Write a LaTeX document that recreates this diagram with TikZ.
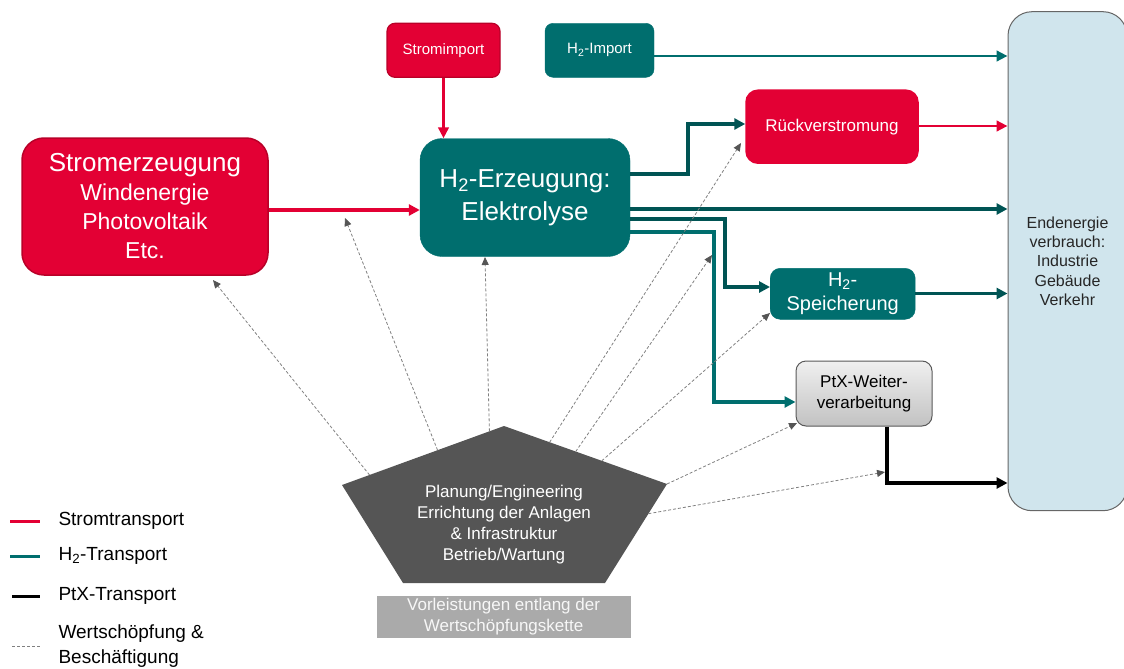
\documentclass[tikz,border=0pt]{standalone}
\usepackage{fontspec}
\setmainfont{Liberation Sans}
\usetikzlibrary{arrows.meta, calc, positioning}
\usepackage{xcolor}

\definecolor{stromred}{RGB}{227,0,52}
\definecolor{stromborder}{RGB}{185,0,40}
\definecolor{htwo}{RGB}{0,110,110}
\definecolor{htwodark}{RGB}{0,84,84}
\definecolor{endblue}{RGB}{208,229,237}
\definecolor{pentgray}{RGB}{85,85,85}
\definecolor{vorlgray}{RGB}{170,170,170}

\newcommand{\fs}[2]{\fontsize{#1}{#2}\selectfont}

\begin{document}
\begin{tikzpicture}[x=1pt,y=-1pt,
  block/.style={draw, align=center, inner sep=0pt, text=white},
  redblock/.style={block, fill=stromred, draw=stromborder, line width=1.5pt},
  tealblock/.style={block, fill=htwo, draw=htwo},
  flow/.style={line width=3.6pt, -{Triangle[length=11pt,width=11pt]}},
  thinflow/.style={line width=2.8pt, -{Triangle[length=11pt,width=10.5pt]}},
  value/.style={draw=gray, line width=0.8pt, dash pattern=on 3pt off 2pt,
    -{Triangle[length=8pt,width=7pt,color=pentgray]}},
  legend/.style={anchor=west, align=left, font=\fs{19}{25}}]
\useasboundingbox (0,0) rectangle (1124,669);

% Boxes
\node [redblock, rounded corners=22pt, minimum width=246pt, minimum height=137pt, font=\fs{23}{29}]
  (strom) at (145,206.5) {{\fs{26}{29}Stromerzeugung}\\Windenergie\\Photovoltaik\\Etc.};
\node [redblock, line width=1.2pt, rounded corners=8pt, minimum width=113pt, minimum height=54pt, font=\fs{15}{18}]
  (simp) at (443.5,50.3) {Stromimport};
\node [tealblock, rounded corners=8pt, minimum width=109pt, minimum height=54pt, font=\fs{15}{18}]
  (himp) at (599.5,50.3) {H\textsubscript{2}-Import};
\node [tealblock, rounded corners=22pt, minimum width=210pt, minimum height=118pt, font=\fs{26}{33}]
  (erz) at (525,197.5) {H\textsubscript{2}-Erzeugung:\\Elektrolyse};
\node [redblock, draw=stromred, rounded corners=12pt, minimum width=172pt, minimum height=73pt, font=\fs{17}{20}]
  (rueck) at (832,126.7) {Rückverstromung};
\node [tealblock, rounded corners=10pt, minimum width=145pt, minimum height=51pt, font=\fs{20}{23.5}]
  (speich) at (842.7,293.8) {H\textsubscript{2}-\\Speicherung};
\node [block, text=black, draw=gray!70!black, line width=1pt, top color=gray!12, bottom color=gray!48,
  rounded corners=10pt, minimum width=136pt, minimum height=65pt, font=\fs{17}{21.7}]
  (ptx) at (864,393.5) {PtX-Weiter-\\verarbeitung};
\node [block, text=black!85, fill=endblue, draw=gray!80!black, line width=1pt, rounded corners=24pt,
  minimum width=119pt, minimum height=499pt, font=\fs{16}{19.4}]
  (end) at (1067.5,261.2) {Endenergie\\verbrauch:\\Industrie\\Gebäude\\Verkehr};

% Pentagon
\coordinate (pt) at (504,426);
\coordinate (pr) at (667,484);
\coordinate (pbr) at (605,583);
\coordinate (pbl) at (403,583);
\coordinate (pl) at (342,485);
\fill [pentgray] (pt) -- (pr) -- (pbr) -- (pbl) -- (pl) -- cycle;
\node [align=center, text=white, font=\fs{17}{21}] (plan) at (504,524.6)
  {Planung/Engineering\\Errichtung der Anlagen\\\& Infrastruktur\\Betrieb/Wartung};
\node [fill=vorlgray, text=gray!6, align=center, inner sep=0pt, minimum width=254pt, minimum height=42pt,
  font=\fs{17}{21}] (vorl) at (503.6,617) {Vorleistungen entlang der\\Wertschöpfungskette};

% Strom flows
\draw [flow, stromred] (strom.east |- 0,210) -- (erz.west |- 0,210);
\draw [thinflow, stromred] (simp.south) -- (simp.south |- erz.north);
\draw [thinflow, stromred] (rueck.east |- 0,126) -- (end.west |- 0,126);

% H2 flows
\draw [thinflow, htwo] (himp.east |- 0,56) -- (end.west |- 0,56);
\draw [flow, htwodark] (erz.east |- 0,174) -| (688,124) -- (rueck.west |- 0,124);
\draw [flow, htwodark] (erz.east |- 0,209) -- (end.west |- 0,209);
\draw [flow, htwodark] (erz.east |- 0,219) -| (725,287) -- (speich.west |- 0,287);
\draw [flow, htwo] (erz.east |- 0,232) -| (714,402) -- (ptx.west |- 0,402);
\draw [flow, htwodark] (speich.east |- 0,293.5) -- (end.west |- 0,293.5);

% PtX flow
\draw [flow, black] (ptx.south -| 887,0) |- (end.west |- 0,483);

% Wertschoepfung
\coordinate (s1) at ($(pl)!0.17!(pt)$);
\coordinate (s2) at ($(pl)!0.59!(pt)$);
\coordinate (s3) at ($(pl)!0.91!(pt)$);
\coordinate (s4) at ($(pt)!0.28!(pr)$);
\coordinate (s5) at ($(pt)!0.44!(pr)$);
\coordinate (s6) at ($(pt)!0.60!(pr)$);
\coordinate (s7) at (pr);
\coordinate (s8) at ($(pr)!0.30!(pbr)$);
\coordinate (t1) at (213,280);
\coordinate (t2) at (345,218);
\coordinate (t3) at (485,257);
\coordinate (t4) at (741,143);
\coordinate (t5) at (712,255);
\coordinate (t6) at (770,313);
\coordinate (t7) at (797,423);
\coordinate (t8) at (885,472);
\foreach \i in {1,...,8}
\draw [value] (s\i) -- (t\i);

% Legend
\coordinate (l1a) at (10,521); \coordinate (l1b) at (40,521);
\coordinate (l2a) at (10,556); \coordinate (l2b) at (40,556);
\coordinate (l3a) at (12,596); \coordinate (l3b) at (40,596);
\coordinate (l4a) at (12,646); \coordinate (l4b) at (40,646);
\draw [line width=3pt, stromred] (l1a) -- (l1b);
\draw [line width=3pt, htwo] (l2a) -- (l2b);
\draw [line width=3pt, black] (l3a) -- (l3b);
\draw [line width=0.8pt, gray, dash pattern=on 3pt off 2pt] (l4a) -- (l4b);
\node [legend] (lg1) at (55,521) {Stromtransport};
\node [legend] (lg2) at (55,556) {H\textsubscript{2}-Transport};
\node [legend] (lg3) at (55,596) {PtX-Transport};
\node [legend] (lg4) at (55,646) {Wertschöpfung \&\\Beschäftigung};
\end{tikzpicture}
\end{document}
